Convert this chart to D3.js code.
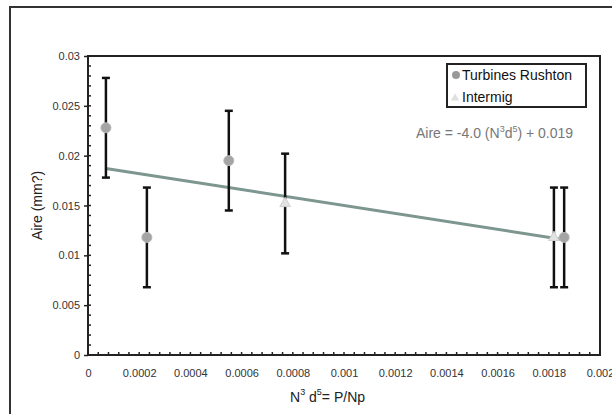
<!DOCTYPE html>
<html><head><meta charset="utf-8">
<script src="https://cdn.jsdelivr.net/npm/d3@7"></script>
<style>body{margin:0;background:#fff}svg{display:block}text{font-family:Arial,"Liberation Sans",sans-serif}</style>
</head><body>
<svg id="c" width="612" height="414"></svg>
<script>
const rushtonX = [0.00007, 0.00023, 0.00055, 0.00186];
const rushtonY = [0.0228, 0.0118, 0.0195, 0.0118];
const rushtonErr = [0.005, 0.005, 0.005, 0.005];
const intermigX = [0.00077, 0.00182];
const intermigY = [0.0152, 0.0118];
const intermigErr = [0.005, 0.005];
const fitSlope = -4.0, fitIntercept = 0.019;
const xTicks = [0,0.0002,0.0004,0.0006,0.0008,0.001,0.0012,0.0014,0.0016,0.0018,0.002];
const xTickLabels = ["0","0.0002","0.0004","0.0006","0.0008","0.001","0.0012","0.0014","0.0016","0.0018","0.002"];
const yTicks = [0,0.005,0.01,0.015,0.02,0.025,0.03];
const yTickLabels = ["0","0.005","0.01","0.015","0.02","0.025","0.03"];

const svg = d3.select("#c");
const L=88,R=600,T=56,B=355;
const x = d3.scaleLinear().domain([0,0.002]).range([L,R]);
const y = d3.scaleLinear().domain([0,0.03]).range([B,T]);

// outer frame
svg.append("rect").attr("x",10).attr("y",7).attr("width",620).attr("height",420)
  .attr("fill","none").attr("stroke","#333").attr("stroke-width",2);

// plot border
svg.append("rect").attr("x",L).attr("y",T).attr("width",R-L).attr("height",B-T)
  .attr("fill","none").attr("stroke","#222").attr("stroke-width",2);

// minor ticks
const yMinor = d3.range(0,31).map(i=>i*0.001);
svg.append("g").selectAll("line").data(yMinor).join("line")
  .attr("x1",L).attr("x2",L+3).attr("y1",d=>y(d)).attr("y2",d=>y(d))
  .attr("stroke","#222").attr("stroke-width",1.5);
const xMinor = d3.range(0,51).map(i=>i*0.00004);
svg.append("g").selectAll("line").data(xMinor).join("line")
  .attr("x1",d=>x(d)).attr("x2",d=>x(d)).attr("y1",B).attr("y2",B-3)
  .attr("stroke","#222").attr("stroke-width",1.5);

// axes
const yAxis = d3.axisLeft(y).tickValues(yTicks).tickFormat((d,i)=>yTickLabels[i]).tickSize(4).tickPadding(4);
const gy = svg.append("g").attr("transform",`translate(${L},0)`).call(yAxis);
gy.select(".domain").remove();
gy.selectAll("line").attr("stroke","#222").attr("stroke-width",1.5);
gy.selectAll("text").attr("font-size",11).attr("fill","#333").attr("font-family","Arial, 'Liberation Sans', sans-serif");

const xAxis = d3.axisBottom(x).tickValues(xTicks).tickFormat((d,i)=>xTickLabels[i]).tickSize(0).tickPadding(14);
const gx = svg.append("g").attr("transform",`translate(0,${B})`).call(xAxis);
gx.select(".domain").remove();
gx.selectAll("text").attr("font-size",11).attr("fill","#333").attr("font-family","Arial, 'Liberation Sans', sans-serif");

// regression line
const allX = rushtonX.concat(intermigX);
const x0 = d3.min(allX), x1 = d3.max(allX);
svg.append("line").attr("x1",x(x0)).attr("y1",y(fitSlope*x0+fitIntercept))
  .attr("x2",x(x1)).attr("y2",y(fitSlope*x1+fitIntercept))
  .attr("stroke","#7d9690").attr("stroke-width",3);

// error bars
function errBars(xs,ys,es){
  const g = svg.append("g");
  xs.forEach((xv,i)=>{
    const cx=x(xv), top=y(ys[i]+es[i]), bot=y(ys[i]-es[i]);
    g.append("line").attr("x1",cx).attr("x2",cx).attr("y1",top).attr("y2",bot).attr("stroke","#111").attr("stroke-width",2.5);
    g.append("line").attr("x1",cx-4).attr("x2",cx+4).attr("y1",top).attr("y2",top).attr("stroke","#111").attr("stroke-width",2.5);
    g.append("line").attr("x1",cx-4).attr("x2",cx+4).attr("y1",bot).attr("y2",bot).attr("stroke","#111").attr("stroke-width",2.5);
  });
}
errBars(intermigX,intermigY,intermigErr);
errBars(rushtonX,rushtonY,rushtonErr);

// markers
const tri = d3.symbol().type(d3.symbolTriangle).size(50);
svg.append("g").selectAll("path").data(intermigX).join("path")
  .attr("d",tri).attr("transform",(d,i)=>`translate(${x(d)},${y(intermigY[i])})`)
  .attr("fill","#e2e2e2").attr("stroke","#d0d0d0");
svg.append("g").selectAll("circle").data(rushtonX).join("circle")
  .attr("cx",d=>x(d)).attr("cy",(d,i)=>y(rushtonY[i])).attr("r",5)
  .attr("fill","#a4a4a4").attr("stroke","#b8b8b8").attr("stroke-width",1);

// legend
svg.append("rect").attr("x",447).attr("y",64).attr("width",139).attr("height",43)
  .attr("fill","#fff").attr("stroke","#222").attr("stroke-width",2);
svg.append("circle").attr("cx",456).attr("cy",75).attr("r",4).attr("fill","#999");
svg.append("path").attr("d",d3.symbol().type(d3.symbolTriangle).size(30)).attr("transform","translate(455,98)").attr("fill","#e0e0e0");
svg.append("text").attr("x",462).attr("y",80).attr("font-size",14).attr("fill","#111").text("Turbines Rushton");
svg.append("defs").append("clipPath").attr("id","lc").append("rect").attr("x",447).attr("y",64).attr("width",139).attr("height",42);
svg.append("text").attr("x",462).attr("y",102).attr("font-size",14).attr("fill","#111").attr("clip-path","url(#lc)").text("Intermig");

// equation
const eq = svg.append("text").attr("x",416).attr("y",138).attr("font-size",14).attr("fill","#777");
eq.append("tspan").text("Aire = -4.0 (N");
eq.append("tspan").attr("dy",-6).attr("font-size",9).text("3");
eq.append("tspan").attr("dy",6).text("d");
eq.append("tspan").attr("dy",-6).attr("font-size",9).text("5");
eq.append("tspan").attr("dy",6).text(") + 0.019");

// axis titles
const xt = svg.append("text").attr("x",290).attr("y",402).attr("font-size",14).attr("fill","#222");
xt.append("tspan").text("N");
xt.append("tspan").attr("dy",-7).attr("font-size",9).text("3");
xt.append("tspan").attr("dy",7).text(" d");
xt.append("tspan").attr("dy",-7).attr("font-size",9).text("5");
xt.append("tspan").attr("dy",7).text("= P/Np");

svg.append("text").attr("transform",`translate(42,${(T+B)/2}) rotate(-90)`).attr("text-anchor","middle")
  .attr("font-size",14).attr("fill","#222").text("Aire (mm?)");
</script>
</body></html>
